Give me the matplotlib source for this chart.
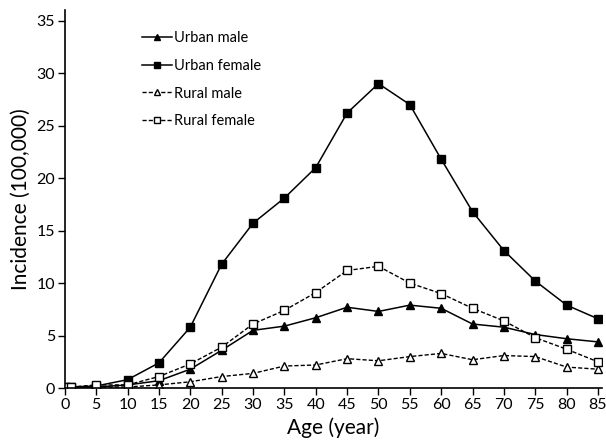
import numpy as np
import matplotlib
matplotlib.use("Agg")
import matplotlib.pyplot as plt

plt.rcParams['font.family'] = ['Lato', 'DejaVu Sans']

# age groups
age = [0, 1, 5, 10, 15, 20, 25, 30, 35, 40, 45, 50, 55, 60, 65, 70, 75, 80, 85]

urban_male = [0.1, 0.1, 0.1, 0.3, 0.7, 1.8, 3.6, 5.5, 5.9, 6.7, 7.7, 7.3, 7.9, 7.6, 6.1, 5.8, 5.1, 4.7, 4.4]
urban_female = [0.1, 0.1, 0.2, 0.8, 2.4, 5.8, 11.8, 15.7, 18.1, 21.0, 26.2, 29.0, 27.0, 21.8, 16.8, 13.1, 10.2, 7.9, 6.6]
rural_male = [0.1, 0.1, 0.1, 0.1, 0.3, 0.6, 1.1, 1.4, 2.1, 2.2, 2.8, 2.6, 3.0, 3.3, 2.7, 3.1, 3.0, 2.0, 1.8]
rural_female = [0.1, 0.1, 0.3, 0.3, 1.1, 2.3, 3.9, 6.1, 7.4, 9.1, 11.2, 11.6, 10.0, 9.0, 7.6, 6.4, 4.8, 3.7, 2.5]

fig = plt.figure(figsize=(6.06, 4.40), dpi=100)
ax = fig.add_axes([0.107, 0.118, 0.886, 0.859])

ax.plot(age, urban_male, color="black", linewidth=1.1, linestyle="-", marker="^",
        markersize=5.2, label="Urban male")
ax.plot(age, urban_female, color="black", linewidth=1.1, linestyle="-", marker="s",
        markersize=5.2, label="Urban female")
ax.plot(age, rural_male, color="black", linewidth=1.0, linestyle=(0, (3, 1.5)), marker="^",
        markersize=5.2, markerfacecolor="white", label="Rural male")
ax.plot(age, rural_female, color="black", linewidth=1.0, linestyle=(0, (3, 1.5)), marker="s",
        markersize=5.2, markerfacecolor="white", label="Rural female")

ax.set_xlim(0, 85.6)
ax.set_ylim(0, 36)
ax.set_xticks(range(0, 86, 5))
ax.set_yticks(range(0, 36, 5))
ax.tick_params(direction="out", length=5, width=1, labelsize=11.5, pad=2)
for s in ["top", "right"]:
    ax.spines[s].set_visible(False)
for s in ["left", "bottom"]:
    ax.spines[s].set_linewidth(1.2)

ax.set_xlabel("Age (year)", fontsize=15, labelpad=4)
ax.set_ylabel("Incidence (100,000)", fontsize=15, labelpad=4)

ax.legend(loc="upper left", bbox_to_anchor=(0.12, 0.98), frameon=False, fontsize=10.5,
          handlelength=2.0, handletextpad=0.15, labelspacing=0.95, markerscale=0.9)

fig.savefig("out.png", dpi=100)
